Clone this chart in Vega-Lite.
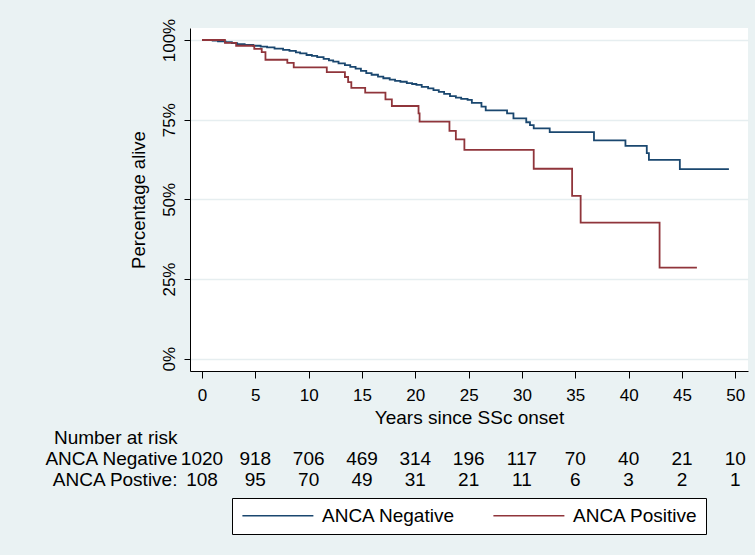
{
  "$schema": "https://vega.github.io/schema/vega-lite/v6.json",
  "autosize": "none",
  "width": 558,
  "height": 343,
  "padding": {"left": 190, "top": 28, "right": 7, "bottom": 184},
  "background": "#eaf2f3",
  "config": {
    "font": "Liberation Sans",
    "view": {"fill": "white", "stroke": null},
    "axis": {"labelColor": "black", "titleColor": "black", "titleFontWeight": "normal", "domainColor": "black", "tickColor": "black"}
  },
  "datasets": {
    "km": [
      {"group": "ANCA Negative", "t": 0, "s": 1.0},
      {"group": "ANCA Negative", "t": 1.0, "s": 0.998},
      {"group": "ANCA Negative", "t": 1.5, "s": 0.996},
      {"group": "ANCA Negative", "t": 2.2, "s": 0.993},
      {"group": "ANCA Negative", "t": 2.8, "s": 0.99},
      {"group": "ANCA Negative", "t": 3.3, "s": 0.987},
      {"group": "ANCA Negative", "t": 4.0, "s": 0.985},
      {"group": "ANCA Negative", "t": 4.8, "s": 0.982},
      {"group": "ANCA Negative", "t": 5.5, "s": 0.979},
      {"group": "ANCA Negative", "t": 6.1, "s": 0.977},
      {"group": "ANCA Negative", "t": 6.8, "s": 0.973},
      {"group": "ANCA Negative", "t": 7.6, "s": 0.969},
      {"group": "ANCA Negative", "t": 8.2, "s": 0.966},
      {"group": "ANCA Negative", "t": 8.8, "s": 0.961},
      {"group": "ANCA Negative", "t": 9.2, "s": 0.958},
      {"group": "ANCA Negative", "t": 9.8, "s": 0.953},
      {"group": "ANCA Negative", "t": 10.3, "s": 0.95},
      {"group": "ANCA Negative", "t": 10.8, "s": 0.946},
      {"group": "ANCA Negative", "t": 11.4, "s": 0.941},
      {"group": "ANCA Negative", "t": 11.9, "s": 0.936},
      {"group": "ANCA Negative", "t": 12.3, "s": 0.932},
      {"group": "ANCA Negative", "t": 12.8, "s": 0.927},
      {"group": "ANCA Negative", "t": 13.4, "s": 0.921},
      {"group": "ANCA Negative", "t": 13.9, "s": 0.916},
      {"group": "ANCA Negative", "t": 14.4, "s": 0.91},
      {"group": "ANCA Negative", "t": 14.9, "s": 0.903},
      {"group": "ANCA Negative", "t": 15.4, "s": 0.896},
      {"group": "ANCA Negative", "t": 15.9, "s": 0.891},
      {"group": "ANCA Negative", "t": 16.5, "s": 0.885},
      {"group": "ANCA Negative", "t": 17.0, "s": 0.88},
      {"group": "ANCA Negative", "t": 17.6, "s": 0.876},
      {"group": "ANCA Negative", "t": 18.1, "s": 0.872},
      {"group": "ANCA Negative", "t": 18.6, "s": 0.869},
      {"group": "ANCA Negative", "t": 19.2, "s": 0.865},
      {"group": "ANCA Negative", "t": 19.7, "s": 0.862},
      {"group": "ANCA Negative", "t": 20.1, "s": 0.859},
      {"group": "ANCA Negative", "t": 20.6, "s": 0.853},
      {"group": "ANCA Negative", "t": 21.2, "s": 0.848},
      {"group": "ANCA Negative", "t": 21.7, "s": 0.843},
      {"group": "ANCA Negative", "t": 22.2, "s": 0.837},
      {"group": "ANCA Negative", "t": 22.7, "s": 0.831},
      {"group": "ANCA Negative", "t": 23.25, "s": 0.824},
      {"group": "ANCA Negative", "t": 23.8, "s": 0.819},
      {"group": "ANCA Negative", "t": 24.3, "s": 0.815},
      {"group": "ANCA Negative", "t": 24.9, "s": 0.812},
      {"group": "ANCA Negative", "t": 25.3, "s": 0.803},
      {"group": "ANCA Negative", "t": 26.2, "s": 0.791},
      {"group": "ANCA Negative", "t": 26.6, "s": 0.779},
      {"group": "ANCA Negative", "t": 28.6, "s": 0.77},
      {"group": "ANCA Negative", "t": 29.2, "s": 0.754},
      {"group": "ANCA Negative", "t": 30.4, "s": 0.742},
      {"group": "ANCA Negative", "t": 30.75, "s": 0.733},
      {"group": "ANCA Negative", "t": 31.1, "s": 0.723},
      {"group": "ANCA Negative", "t": 32.6, "s": 0.711},
      {"group": "ANCA Negative", "t": 36.75, "s": 0.685},
      {"group": "ANCA Negative", "t": 39.7, "s": 0.668},
      {"group": "ANCA Negative", "t": 41.7, "s": 0.645},
      {"group": "ANCA Negative", "t": 41.9, "s": 0.624},
      {"group": "ANCA Negative", "t": 44.8, "s": 0.595},
      {"group": "ANCA Negative", "t": 49.4, "s": 0.595},
      {"group": "ANCA Positive", "t": 0, "s": 1.0},
      {"group": "ANCA Positive", "t": 2.15, "s": 0.991},
      {"group": "ANCA Positive", "t": 3.2, "s": 0.982},
      {"group": "ANCA Positive", "t": 4.9, "s": 0.972},
      {"group": "ANCA Positive", "t": 5.6, "s": 0.962},
      {"group": "ANCA Positive", "t": 5.95, "s": 0.938},
      {"group": "ANCA Positive", "t": 8.0, "s": 0.928},
      {"group": "ANCA Positive", "t": 8.6, "s": 0.914},
      {"group": "ANCA Positive", "t": 11.7, "s": 0.899},
      {"group": "ANCA Positive", "t": 13.4, "s": 0.884},
      {"group": "ANCA Positive", "t": 13.7, "s": 0.868},
      {"group": "ANCA Positive", "t": 14.0, "s": 0.85},
      {"group": "ANCA Positive", "t": 15.3, "s": 0.835},
      {"group": "ANCA Positive", "t": 17.2, "s": 0.814},
      {"group": "ANCA Positive", "t": 17.8, "s": 0.793},
      {"group": "ANCA Positive", "t": 20.3, "s": 0.77},
      {"group": "ANCA Positive", "t": 20.4, "s": 0.744},
      {"group": "ANCA Positive", "t": 23.2, "s": 0.715},
      {"group": "ANCA Positive", "t": 23.8, "s": 0.688},
      {"group": "ANCA Positive", "t": 24.6, "s": 0.655},
      {"group": "ANCA Positive", "t": 31.1, "s": 0.596},
      {"group": "ANCA Positive", "t": 34.7, "s": 0.511},
      {"group": "ANCA Positive", "t": 35.5, "s": 0.427},
      {"group": "ANCA Positive", "t": 42.9, "s": 0.286},
      {"group": "ANCA Positive", "t": 46.4, "s": 0.286}
    ],
    "risk": [
      {"row": "ANCA Negative", "t": 0, "n": 1020},
      {"row": "ANCA Negative", "t": 5, "n": 918},
      {"row": "ANCA Negative", "t": 10, "n": 706},
      {"row": "ANCA Negative", "t": 15, "n": 469},
      {"row": "ANCA Negative", "t": 20, "n": 314},
      {"row": "ANCA Negative", "t": 25, "n": 196},
      {"row": "ANCA Negative", "t": 30, "n": 117},
      {"row": "ANCA Negative", "t": 35, "n": 70},
      {"row": "ANCA Negative", "t": 40, "n": 40},
      {"row": "ANCA Negative", "t": 45, "n": 21},
      {"row": "ANCA Negative", "t": 50, "n": 10},
      {"row": "ANCA Postive:", "t": 0, "n": 108},
      {"row": "ANCA Postive:", "t": 5, "n": 95},
      {"row": "ANCA Postive:", "t": 10, "n": 70},
      {"row": "ANCA Postive:", "t": 15, "n": 49},
      {"row": "ANCA Postive:", "t": 20, "n": 31},
      {"row": "ANCA Postive:", "t": 25, "n": 21},
      {"row": "ANCA Postive:", "t": 30, "n": 11},
      {"row": "ANCA Postive:", "t": 35, "n": 6},
      {"row": "ANCA Postive:", "t": 40, "n": 3},
      {"row": "ANCA Postive:", "t": 45, "n": 2},
      {"row": "ANCA Postive:", "t": 50, "n": 1}
    ],
    "rows": [
      {"row": "Number at risk"},
      {"row": "ANCA Negative"},
      {"row": "ANCA Postive:"}
    ]
  },
  "layer": [
    {
      "layer": [
        {
          "data": {"name": "km"},
          "mark": {"type": "line", "interpolate": "step-after", "strokeWidth": 1.8},
          "encoding": {
            "x": {
              "field": "t", "type": "quantitative",
              "scale": {"domain": [-1.125, 51.19], "nice": false, "zero": false},
              "axis": {
                "title": "Years since SSc onset", "values": [0, 5, 10, 15, 20, 25, 30, 35, 40, 45, 50],
                "grid": false, "tickSize": 7, "labelPadding": 9, "labelFontSize": 17,
                "titleFontSize": 19, "titlePadding": 5, "labelFlush": false
              }
            },
            "y": {
              "field": "s", "type": "quantitative",
              "scale": {"domain": [-0.0386, 1.0377], "nice": false, "zero": false},
              "axis": {
                "title": "Percentage alive", "values": [0, 0.25, 0.5, 0.75, 1], "format": ".0%",
                "grid": true, "gridColor": "#e6eef0", "gridWidth": 1.5,
                "tickSize": 6, "labelAngle": -90, "labelAlign": "center", "labelBaseline": "alphabetic",
                "labelPadding": 10, "labelFontSize": 17, "titleFontSize": 18.5, "titlePadding": 12, "labelFlush": false
              }
            },
            "color": {
              "field": "group", "type": "nominal",
              "scale": {"domain": ["ANCA Negative", "ANCA Positive"], "range": ["#1a476f", "#90353b"]},
              "legend": {
                "title": null, "orient": "none", "direction": "horizontal",
                "legendX": 42, "legendY": 470,
                "symbolType": "M-1,0H9", "symbolSize": 201.6, "symbolStrokeWidth": 1.5,
                "labelFontSize": 19, "labelColor": "black", "labelOffset": 63, "columnPadding": 34,
                "padding": 8, "strokeColor": "black", "fillColor": "white", "cornerRadius": 0
              }
            }
          }
        },
        {
          "mark": {"type": "text", "fontSize": 18.5, "color": "black", "text": "p = 0.006"},
          "encoding": {
            "x": {"datum": 35.2, "type": "quantitative", "scale": {"domain": [-1.125, 51.19], "nice": false, "zero": false}},
            "y": {"datum": 0.953, "type": "quantitative", "scale": {"domain": [-0.0386, 1.0377], "nice": false, "zero": false}}
          }
        }
      ]
    },
    {
      "layer": [
        {
          "data": {"name": "risk"},
          "mark": {"type": "text", "fontSize": 19, "color": "black", "baseline": "middle"},
          "encoding": {
            "x": {"field": "t", "type": "quantitative", "scale": {"domain": [-1.125, 51.19], "nice": false, "zero": false}},
            "y": {"field": "row", "type": "nominal", "axis": null,
              "scale": {"type": "point", "domain": ["Number at risk", "ANCA Negative", "ANCA Postive:"], "range": [410, 452], "padding": 0}},
            "text": {"field": "n", "type": "quantitative"}
          }
        },
        {
          "data": {"name": "rows"},
          "mark": {"type": "text", "fontSize": 19, "color": "black", "baseline": "middle", "align": "right"},
          "encoding": {
            "x": {"datum": -2.3, "type": "quantitative", "scale": {"domain": [-1.125, 51.19], "nice": false, "zero": false}},
            "y": {"field": "row", "type": "nominal", "axis": null,
              "scale": {"type": "point", "domain": ["Number at risk", "ANCA Negative", "ANCA Postive:"], "range": [410, 452], "padding": 0}},
            "text": {"field": "row", "type": "nominal"}
          }
        }
      ]
    }
  ],
  "resolve": {"scale": {"y": "independent"}, "axis": {"y": "independent"}}
}
